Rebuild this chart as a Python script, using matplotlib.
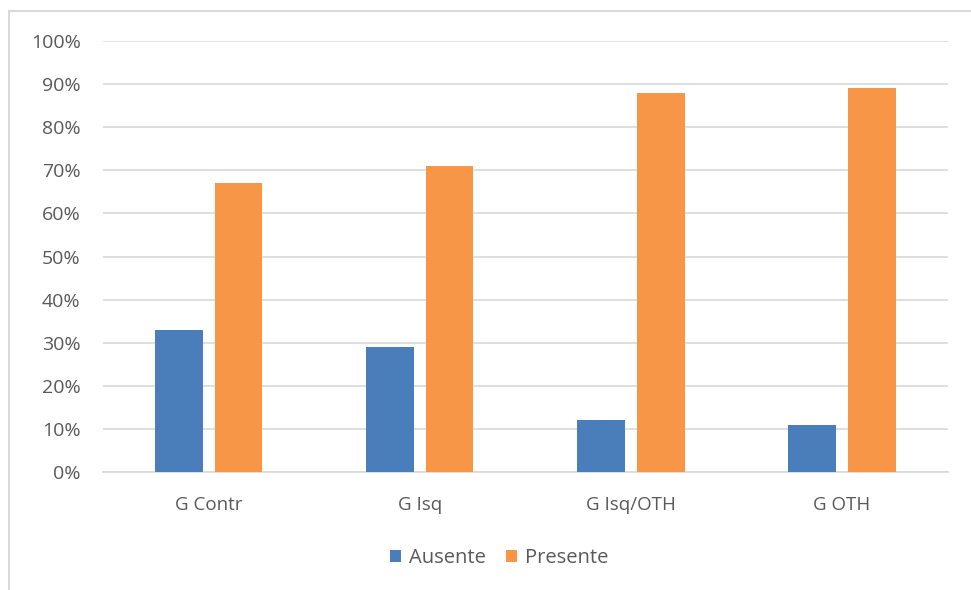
import matplotlib.pyplot as plt
import matplotlib.patches as patches
import numpy as np
from matplotlib.ticker import PercentFormatter

# Dados
grupos = ['G Contr', 'G Isq', 'G Isq/OTH', 'G OTH']
ausente = [33, 29, 12, 11]
presente = [67, 71, 88, 89]

plt.rcParams['font.family'] = ['Open Sans', 'DejaVu Sans']

fig = plt.figure(figsize=(9.71, 5.90), dpi=100)
ax = fig.add_axes([0.106, 0.2, 0.870, 0.7305])

x = np.arange(len(grupos))
largura = 0.226
desloc = 0.1415
ax.bar(x - desloc, ausente, largura, color='#4a7ebb', label='Ausente', zorder=3)
ax.bar(x + desloc, presente, largura, color='#f79646', label='Presente', zorder=3)

ax.set_xlim(-0.5, len(grupos) - 0.5)
ax.set_ylim(0, 100)
ax.set_yticks(range(0, 101, 10))
ax.yaxis.set_major_formatter(PercentFormatter(decimals=0))
ax.set_xticks(x)
ax.set_xticklabels(grupos)
ax.grid(axis='y', color='#d9d9d9', linewidth=1.2, zorder=0)
for s in ['top', 'right', 'left']:
    ax.spines[s].set_visible(False)
ax.spines['bottom'].set_color('#d9d9d9')
ax.spines['bottom'].set_linewidth(1.2)
ax.tick_params(axis='both', length=0, colors='#595959')
ax.tick_params(axis='y', labelsize=14, pad=16)
ax.tick_params(axis='x', labelsize=13.5, pad=17)

ax.legend(loc='center', bbox_to_anchor=(0.469, -0.2), ncol=2, frameon=False,
          fontsize=14.5, handlelength=0.55, handleheight=0.55, columnspacing=1.0,
          handletextpad=0.4, labelcolor='#595959')

# Moldura do gráfico
fig.patches.append(patches.Rectangle((9 / 971, -0.05), 1.1, 1 - 11 / 590 + 0.05,
                                     transform=fig.transFigure, fill=False,
                                     edgecolor='#d9d9d9', linewidth=1.5))

plt.savefig('out.png', dpi=100)
